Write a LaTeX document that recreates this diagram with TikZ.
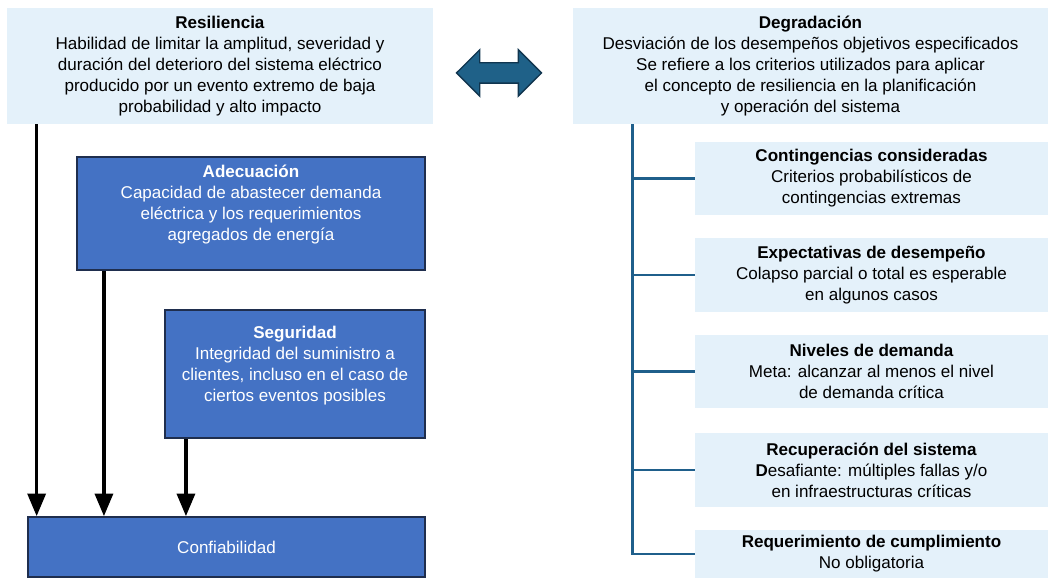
\documentclass[tikz,border=0pt]{standalone}
\usepackage{fontspec}
\setmainfont{Liberation Sans}
\usetikzlibrary{arrows,shapes.arrows}

\definecolor{paleblue}{HTML}{E4F1FA}
\definecolor{midblue}{HTML}{4472C4}
\definecolor{navyline}{HTML}{1F2E4E}
\definecolor{tealblue}{HTML}{1F5F8B}
\definecolor{arrowblue}{HTML}{1F6188}
\definecolor{arrowedge}{HTML}{10354F}

\tikzset{
  softbox/.style={fill=paleblue, align=center, inner sep=2pt,
    font=\fontsize{9.7}{11.9}\selectfont},
  hardbox/.style={fill=midblue, draw=navyline, line width=1.2pt, text=white,
    align=center, inner sep=2pt, font=\fontsize{9.7}{11.9}\selectfont},
  feed/.style={-triangle 45, line width=2pt},
  branch/.style={tealblue, line width=1.6pt},
}

\begin{document}
\begin{tikzpicture}
\useasboundingbox (0,0) rectangle (21,-11.56);

% top boxes
\node[softbox, minimum width=8.52cm, minimum height=2.32cm] (res) at (4.40,-1.32)
  {\textbf{Resiliencia}\\ Habilidad de limitar la amplitud, severidad y\\
   duración del deterioro del sistema eléctrico\\
   producido por un evento extremo de baja\\ probabilidad y alto impacto};
\node[softbox, minimum width=9.5cm, minimum height=2.32cm] (deg) at (16.21,-1.32)
  {\textbf{Degradación}\\ Desviación de los desempeños objetivos especificados\\
   Se refiere a los criterios utilizados para aplicar\\
   el concepto de resiliencia en la planificación\\ y operación del sistema};
\node[double arrow, draw=arrowedge, fill=arrowblue, line width=0.8pt, inner xsep=0pt,
  inner ysep=0.19cm, minimum height=1.7cm, double arrow head extend=0.26cm] (link) at (9.98,-1.46) {};

% left side
\node[hardbox, minimum width=6.96cm, minimum height=2.26cm] (ade) at (5.02,-4.27)
  {\textbf{Adecuación}\\ Capacidad de abastecer demanda\\
   eléctrica y los requerimientos\\ agregados de energía\\ \mbox{}};
\node[hardbox, minimum width=5.2cm, minimum height=2.56cm] (seg) at (5.90,-7.48)
  {\textbf{Seguridad}\\ Integridad del suministro a\\
   clientes, incluso en el caso de\\ ciertos eventos posibles\\ \mbox{}};
\node[hardbox, minimum width=7.94cm, minimum height=1.2cm] (conf) at (4.53,-10.94) {Confiabilidad};

\draw[feed] ([xshift=0.6cm]res.south west) -- ([xshift=0.6cm]res.south west |- conf.north);
\draw[feed] ([xshift=0.56cm]ade.south west) -- ([xshift=0.56cm]ade.south west |- conf.north);
\draw[feed] ([xshift=0.44cm]seg.south west) -- ([xshift=0.44cm]seg.south west |- conf.north);

% right side
\node[softbox, minimum width=7.06cm, minimum height=1.46cm] (cont) at (17.43,-3.57)
  {\textbf{Contingencias consideradas}\\ Criterios probabilísticos de\\ contingencias extremas};
\node[softbox, minimum width=7.06cm, minimum height=1.48cm] (exp) at (17.43,-5.50)
  {\textbf{Expectativas de desempeño}\\ Colapso parcial o total es esperable\\ en algunos casos};
\node[softbox, minimum width=7.06cm, minimum height=1.46cm] (niv) at (17.43,-7.43)
  {\textbf{Niveles de demanda}\\ Meta: alcanzar al menos el nivel\\ de demanda crítica};
\node[softbox, minimum width=7.06cm, minimum height=1.48cm] (rec) at (17.43,-9.40)
  {\textbf{Recuperación del sistema}\\ \textbf{D}esafiante: múltiples fallas y/o\\ en infraestructuras críticas};
\node[softbox, minimum width=7.06cm, minimum height=0.96cm] (req) at (17.43,-11.08)
  {\textbf{Requerimiento de cumplimiento}\\ No obligatoria};

\coordinate (trunk) at ([xshift=1.2cm]deg.south west);
\draw[branch] (trunk) |- (req.west);
\draw[branch] (trunk |- cont.west) -- (cont.west);
\draw[branch] (trunk |- exp.west) -- (exp.west);
\draw[branch] (trunk |- niv.west) -- (niv.west);
\draw[branch] (trunk |- rec.west) -- (rec.west);
\end{tikzpicture}
\end{document}
